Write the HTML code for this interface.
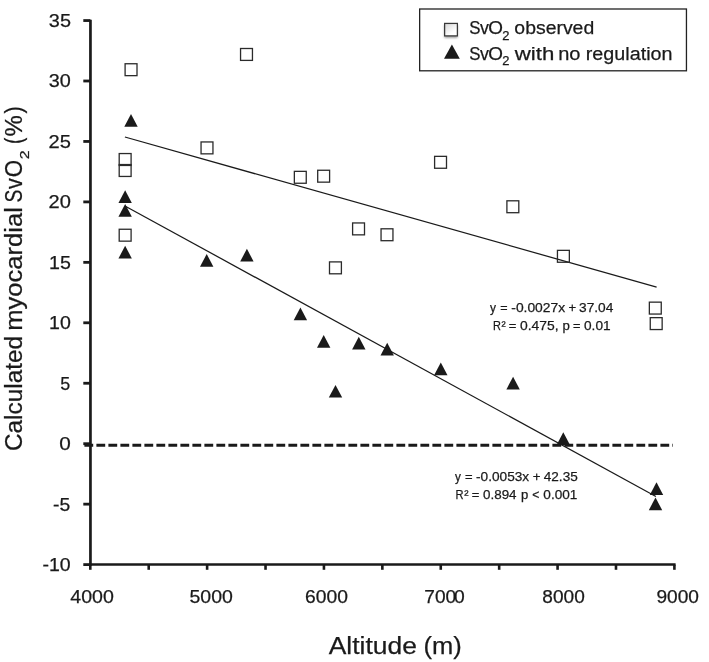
<!DOCTYPE html>
<html><head><meta charset="utf-8"><title>Chart</title>
<style>
html,body{margin:0;padding:0;background:#fff;overflow:hidden;}
svg{display:block;will-change:transform;}
text{font-family:"Liberation Sans",sans-serif;fill:#1a1a1a;stroke:#1a1a1a;stroke-width:0.25px;}
</style></head><body>
<svg width="709" height="662" viewBox="0 0 709 662">
<defs><filter id="sh" x="-50%" y="-50%" width="220%" height="220%"><feGaussianBlur stdDeviation="1.2"/></filter>
<linearGradient id="lg" x1="0" y1="0" x2="0.8" y2="1"><stop offset="0" stop-color="#d4d4d4"/><stop offset="0.75" stop-color="#ffffff"/></linearGradient></defs>
<rect x="0" y="0" width="709" height="662" fill="#ffffff"/>

<g stroke="#1a1a1a" fill="none">
<line x1="90.45" y1="19.7" x2="90.45" y2="565.85" stroke-width="2.7"/>
<line x1="89.1" y1="564.5" x2="675.6" y2="564.5" stroke-width="2.7"/>
<line x1="83.3" y1="564.60" x2="90.4" y2="564.60" stroke-width="2.8"/>
<line x1="83.3" y1="504.15" x2="90.4" y2="504.15" stroke-width="2.8"/>
<line x1="83.3" y1="443.70" x2="90.4" y2="443.70" stroke-width="2.8"/>
<line x1="83.3" y1="383.25" x2="90.4" y2="383.25" stroke-width="2.8"/>
<line x1="83.3" y1="322.80" x2="90.4" y2="322.80" stroke-width="2.8"/>
<line x1="83.3" y1="262.35" x2="90.4" y2="262.35" stroke-width="2.8"/>
<line x1="83.3" y1="201.90" x2="90.4" y2="201.90" stroke-width="2.8"/>
<line x1="83.3" y1="141.45" x2="90.4" y2="141.45" stroke-width="2.8"/>
<line x1="83.3" y1="81.00" x2="90.4" y2="81.00" stroke-width="2.8"/>
<line x1="83.3" y1="20.55" x2="90.4" y2="20.55" stroke-width="2.8"/>
<line x1="90.30" y1="564.7" x2="90.30" y2="569.8" stroke-width="2.6"/>
<line x1="148.71" y1="564.7" x2="148.71" y2="569.8" stroke-width="2.6"/>
<line x1="207.12" y1="564.7" x2="207.12" y2="569.8" stroke-width="2.6"/>
<line x1="265.53" y1="564.7" x2="265.53" y2="569.8" stroke-width="2.6"/>
<line x1="323.94" y1="564.7" x2="323.94" y2="569.8" stroke-width="2.6"/>
<line x1="382.35" y1="564.7" x2="382.35" y2="569.8" stroke-width="2.6"/>
<line x1="440.76" y1="564.7" x2="440.76" y2="569.8" stroke-width="2.6"/>
<line x1="499.17" y1="564.7" x2="499.17" y2="569.8" stroke-width="2.6"/>
<line x1="557.58" y1="564.7" x2="557.58" y2="569.8" stroke-width="2.6"/>
<line x1="615.99" y1="564.7" x2="615.99" y2="569.8" stroke-width="2.6"/>
<line x1="674.40" y1="564.7" x2="674.40" y2="569.8" stroke-width="2.6"/>
</g>
<line x1="84.4" y1="445.2" x2="673" y2="445.2" stroke="#1a1a1a" stroke-width="3" stroke-dasharray="8.8 3.2"/>
<line x1="124.9" y1="137.0" x2="656.6" y2="287.1" stroke="#1a1a1a" stroke-width="1.25"/>
<line x1="125.4" y1="206.2" x2="655.9" y2="496.5" stroke="#1a1a1a" stroke-width="1.25"/>
<g fill="none" stroke="#2b2b2b" stroke-width="1.3">
<rect x="125.10" y="63.75" width="11.90" height="11.90"/>
<rect x="119.20" y="153.55" width="11.90" height="11.90"/>
<rect x="119.20" y="164.55" width="11.90" height="11.90"/>
<rect x="119.20" y="229.25" width="11.90" height="11.90"/>
<rect x="201.05" y="141.95" width="11.90" height="11.90"/>
<rect x="240.55" y="48.50" width="11.90" height="11.90"/>
<rect x="294.35" y="171.35" width="11.90" height="11.90"/>
<rect x="317.70" y="170.25" width="11.90" height="11.90"/>
<rect x="329.50" y="261.90" width="11.90" height="11.90"/>
<rect x="352.60" y="222.95" width="11.90" height="11.90"/>
<rect x="381.05" y="228.80" width="11.90" height="11.90"/>
<rect x="434.60" y="156.35" width="11.90" height="11.90"/>
<rect x="506.90" y="200.80" width="11.90" height="11.90"/>
<rect x="557.45" y="250.35" width="11.90" height="11.90"/>
<rect x="649.35" y="302.15" width="11.90" height="11.90"/>
<rect x="650.25" y="317.65" width="11.90" height="11.90"/>
</g>
<g fill="#1a1a1a" stroke="none">
<polygon points="131.00,114.10 124.30,126.80 137.70,126.80"/>
<polygon points="125.15,190.30 118.45,203.00 131.85,203.00"/>
<polygon points="125.15,204.10 118.45,216.80 131.85,216.80"/>
<polygon points="125.15,245.80 118.45,258.50 131.85,258.50"/>
<polygon points="206.70,254.00 200.00,266.70 213.40,266.70"/>
<polygon points="246.90,248.80 240.20,261.50 253.60,261.50"/>
<polygon points="300.40,307.60 293.70,320.30 307.10,320.30"/>
<polygon points="323.70,335.10 317.00,347.80 330.40,347.80"/>
<polygon points="335.50,384.90 328.80,397.60 342.20,397.60"/>
<polygon points="358.80,336.70 352.10,349.40 365.50,349.40"/>
<polygon points="387.20,342.80 380.50,355.50 393.90,355.50"/>
<polygon points="440.80,362.60 434.10,375.30 447.50,375.30"/>
<polygon points="513.10,376.70 506.40,389.40 519.80,389.40"/>
<polygon points="563.30,432.20 556.60,444.90 570.00,444.90"/>
<polygon points="656.50,482.30 649.80,495.00 663.20,495.00"/>
<polygon points="655.50,497.50 648.80,510.20 662.20,510.20"/>
</g>
<text x="48.86" y="26.90" font-size="18.8" textLength="22.09" lengthAdjust="spacingAndGlyphs">35</text>
<text x="48.86" y="87.35" font-size="18.8" textLength="22.03" lengthAdjust="spacingAndGlyphs">30</text>
<text x="48.60" y="147.80" font-size="18.8" textLength="22.36" lengthAdjust="spacingAndGlyphs">25</text>
<text x="48.60" y="208.25" font-size="18.8" textLength="22.30" lengthAdjust="spacingAndGlyphs">20</text>
<text x="49.13" y="268.70" font-size="18.8" textLength="21.80" lengthAdjust="spacingAndGlyphs">15</text>
<text x="49.13" y="329.15" font-size="18.8" textLength="21.75" lengthAdjust="spacingAndGlyphs">10</text>
<text x="60.18" y="389.60" font-size="18.8" textLength="9.95" lengthAdjust="spacingAndGlyphs">5</text>
<text x="59.37" y="450.05" font-size="18.8" textLength="11.53" lengthAdjust="spacingAndGlyphs">0</text>
<text x="53.03" y="510.50" font-size="18.8" textLength="17.17" lengthAdjust="spacingAndGlyphs">-5</text>
<text x="42.52" y="570.95" font-size="18.8" textLength="28.22" lengthAdjust="spacingAndGlyphs">-10</text>
<text x="70.26" y="603.35" font-size="18.8" textLength="43.52" lengthAdjust="spacingAndGlyphs">4000</text>
<text x="189.52" y="603.35" font-size="18.8" textLength="43.35" lengthAdjust="spacingAndGlyphs">5000</text>
<text x="305.04" y="603.35" font-size="18.8" textLength="42.83" lengthAdjust="spacingAndGlyphs">6000</text>
<text x="424.29" y="603.35" font-size="18.8" textLength="31.94" lengthAdjust="spacingAndGlyphs">700</text>
<text x="454.13" y="603.35" font-size="18.8" textLength="10.72" lengthAdjust="spacingAndGlyphs">0</text>
<text x="542.39" y="603.35" font-size="18.8" textLength="42.37" lengthAdjust="spacingAndGlyphs">8000</text>
<text x="656.49" y="603.35" font-size="18.8" textLength="42.46" lengthAdjust="spacingAndGlyphs">9000</text>
<rect x="419.65" y="9.0" width="266.8" height="61.8" fill="#fff" stroke="#222" stroke-width="1.3"/>
<rect x="444.4" y="25.0" width="13.2" height="12.9" fill="#777" filter="url(#sh)" opacity="0.75"/>
<rect x="444.62" y="23.42" width="12.76" height="12.46" fill="url(#lg)" stroke="#383838" stroke-width="1.25"/>
<polygon points="451.9,44.5 444.0,58.7 459.8,58.7" fill="#1a1a1a"/>
<text x="469.14" y="34.20" font-size="19.2" textLength="11.25" lengthAdjust="spacingAndGlyphs">S</text>
<text x="479.91" y="34.20" font-size="19.2" textLength="8.88" lengthAdjust="spacingAndGlyphs">v</text>
<text x="488.20" y="34.20" font-size="19.2" textLength="14.70" lengthAdjust="spacingAndGlyphs">O</text>
<text x="502.35" y="39.50" font-size="12" textLength="7.21" lengthAdjust="spacingAndGlyphs">2</text>
<text x="514.37" y="34.20" font-size="19.2" textLength="79.86" lengthAdjust="spacingAndGlyphs">observed</text>
<text x="469.14" y="59.50" font-size="19.2" textLength="11.25" lengthAdjust="spacingAndGlyphs">S</text>
<text x="479.91" y="59.50" font-size="19.2" textLength="8.88" lengthAdjust="spacingAndGlyphs">v</text>
<text x="488.20" y="59.50" font-size="19.2" textLength="14.70" lengthAdjust="spacingAndGlyphs">O</text>
<text x="502.35" y="64.80" font-size="12" textLength="7.21" lengthAdjust="spacingAndGlyphs">2</text>
<text x="514.70" y="59.50" font-size="19.2" textLength="39.57" lengthAdjust="spacingAndGlyphs">with</text>
<text x="558.15" y="59.50" font-size="19.2" textLength="22.30" lengthAdjust="spacingAndGlyphs">no</text>
<text x="585.77" y="59.50" font-size="19.2" textLength="86.76" lengthAdjust="spacingAndGlyphs">regulation</text>
<text x="490.07" y="311.70" font-size="13.3" textLength="5.96" lengthAdjust="spacingAndGlyphs">y</text>
<text x="500.17" y="311.70" font-size="13.3" textLength="7.34" lengthAdjust="spacingAndGlyphs">=</text>
<text x="511.28" y="311.70" font-size="13.3" textLength="53.89" lengthAdjust="spacingAndGlyphs">-0.0027x</text>
<text x="568.40" y="311.70" font-size="13.3" textLength="7.65" lengthAdjust="spacingAndGlyphs">+</text>
<text x="579.09" y="311.70" font-size="13.3" textLength="34.29" lengthAdjust="spacingAndGlyphs">37.04</text>
<text x="492.99" y="329.70" font-size="13.3" textLength="7.92" lengthAdjust="spacingAndGlyphs">R</text>
<text x="501.55" y="329.70" font-size="13.3" textLength="4.18" lengthAdjust="spacingAndGlyphs">²</text>
<text x="508.85" y="329.70" font-size="13.3" textLength="7.59" lengthAdjust="spacingAndGlyphs">=</text>
<text x="520.04" y="329.70" font-size="13.3" textLength="38.61" lengthAdjust="spacingAndGlyphs">0.475,</text>
<text x="562.44" y="329.70" font-size="13.3" textLength="7.35" lengthAdjust="spacingAndGlyphs">p</text>
<text x="573.06" y="329.70" font-size="13.3" textLength="7.47" lengthAdjust="spacingAndGlyphs">=</text>
<text x="584.00" y="329.70" font-size="13.3" textLength="26.56" lengthAdjust="spacingAndGlyphs">0.01</text>
<text x="455.07" y="481.00" font-size="13.3" textLength="5.86" lengthAdjust="spacingAndGlyphs">y</text>
<text x="464.95" y="481.00" font-size="13.3" textLength="7.59" lengthAdjust="spacingAndGlyphs">=</text>
<text x="476.04" y="481.00" font-size="13.3" textLength="53.12" lengthAdjust="spacingAndGlyphs">-0.0053x</text>
<text x="532.79" y="481.00" font-size="13.3" textLength="7.77" lengthAdjust="spacingAndGlyphs">+</text>
<text x="543.79" y="481.00" font-size="13.3" textLength="33.95" lengthAdjust="spacingAndGlyphs">42.35</text>
<text x="455.48" y="499.35" font-size="13.3" textLength="8.04" lengthAdjust="spacingAndGlyphs">R</text>
<text x="464.24" y="499.35" font-size="13.3" textLength="4.29" lengthAdjust="spacingAndGlyphs">²</text>
<text x="471.85" y="499.35" font-size="13.3" textLength="7.59" lengthAdjust="spacingAndGlyphs">=</text>
<text x="483.06" y="499.35" font-size="13.3" textLength="33.50" lengthAdjust="spacingAndGlyphs">0.894</text>
<text x="521.05" y="499.35" font-size="13.3" textLength="7.29" lengthAdjust="spacingAndGlyphs">p</text>
<text x="532.14" y="499.35" font-size="13.3" textLength="7.16" lengthAdjust="spacingAndGlyphs">&lt;</text>
<text x="543.36" y="499.35" font-size="13.3" textLength="33.99" lengthAdjust="spacingAndGlyphs">0.001</text>
<text x="328.73" y="653.60" font-size="24.6" textLength="88.10" lengthAdjust="spacingAndGlyphs">Altitude</text>
<text x="423.41" y="653.60" font-size="24.6" textLength="38.23" lengthAdjust="spacingAndGlyphs">(m)</text>
<g transform="translate(22.1,0) rotate(-90)">
<text x="-451.02" y="0.00" font-size="24.6" textLength="115.05" lengthAdjust="spacingAndGlyphs">Calculated</text>
<text x="-330.83" y="0.00" font-size="24.6" textLength="123.65" lengthAdjust="spacingAndGlyphs">myocardial</text>
<text x="-202.47" y="0.00" font-size="24.6" textLength="12.88" lengthAdjust="spacingAndGlyphs">S</text>
<text x="-188.91" y="0.00" font-size="24.6" textLength="10.71" lengthAdjust="spacingAndGlyphs">v</text>
<text x="-177.36" y="0.00" font-size="24.6" textLength="17.32" lengthAdjust="spacingAndGlyphs">O</text>
<text x="-159.20" y="7.10" font-size="12.6" textLength="8.92" lengthAdjust="spacingAndGlyphs">2</text>
<text x="-143.99" y="0.00" font-size="24.6" textLength="6.34" lengthAdjust="spacingAndGlyphs">(</text>
<text x="-136.54" y="0.00" font-size="24.6" textLength="21.32" lengthAdjust="spacingAndGlyphs">%</text>
<text x="-113.47" y="0.00" font-size="24.6" textLength="7.36" lengthAdjust="spacingAndGlyphs">)</text>
</g>
</svg></body></html>
